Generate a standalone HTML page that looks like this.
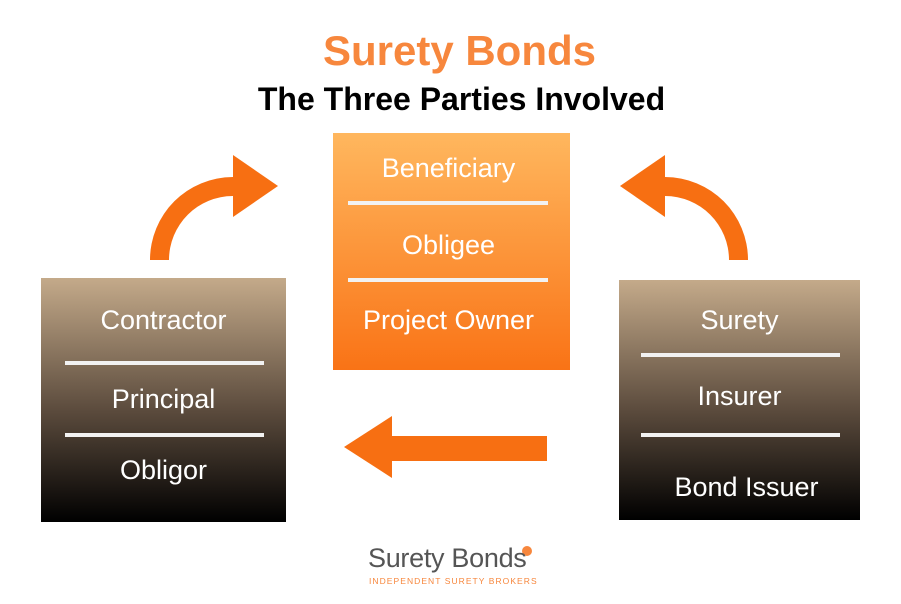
<!DOCTYPE html>
<html><head><style>
body{margin:0;width:901px;height:604px;background:#fff;position:relative;overflow:hidden;font-family:"Liberation Sans",sans-serif}
.t{position:absolute;text-align:center;font-weight:bold;white-space:nowrap}
.box{position:absolute;color:#fff;font-size:27px}
.box div.l{position:absolute;left:0;width:100%;text-align:center}
.box div.h{position:absolute;height:4px;background:#f2f2f2}
</style></head><body>
<div class="t" style="left:9px;width:901px;top:27px;font-size:42px;color:#f7873d">Surety Bonds</div>
<div class="t" style="left:11px;width:901px;top:81px;font-size:32px;color:#000">The Three Parties Involved</div>

<div class="box" style="left:333px;top:133px;width:237px;height:237px;background:linear-gradient(#ffb75e,#f97316)">
<div class="l" style="top:20px;left:-3px">Beneficiary</div>
<div class="h" style="left:15px;width:200px;top:68px"></div>
<div class="l" style="top:97px;left:-3px">Obligee</div>
<div class="h" style="left:15px;width:200px;top:145px"></div>
<div class="l" style="top:172px;left:-3px">Project Owner</div>
</div>

<div class="box" style="left:41px;top:278px;width:245px;height:244px;background:linear-gradient(#c4aa8a,#5a4a3c 55%,#000)">
<div class="l" style="top:27px">Contractor</div>
<div class="h" style="left:24px;width:199px;top:83px"></div>
<div class="l" style="top:106px">Principal</div>
<div class="h" style="left:24px;width:199px;top:155px"></div>
<div class="l" style="top:177px">Obligor</div>
</div>

<div class="box" style="left:619px;top:280px;width:241px;height:240px;background:linear-gradient(#c4aa8a,#5a4a3c 55%,#000)">
<div class="l" style="top:25px">Surety</div>
<div class="h" style="left:22px;width:199px;top:73px"></div>
<div class="l" style="top:101px">Insurer</div>
<div class="h" style="left:22px;width:199px;top:153px"></div>
<div class="l" style="top:192px;left:7px">Bond Issuer</div>
</div>

<svg width="901" height="604" style="position:absolute;left:0;top:0">
<g fill="#f76f12">
<path d="M150,260 A83,83 0 0 1 233,177 L233,196 A64,64 0 0 0 169,260 Z"/>
<polygon points="233,155 278,186 233,217"/>
<path d="M748,260 A83,83 0 0 0 665,177 L665,196 A64,64 0 0 1 729,260 Z"/>
<polygon points="665,155 620,186 665,217"/>
<rect x="390" y="436" width="157" height="25"/>
<polygon points="392,416 344,447 392,478"/>
<circle cx="527" cy="551" r="5" fill="#f7873d"/>
</g>
</svg>
<div style="position:absolute;left:368px;top:543px;font-size:27px;color:#555;letter-spacing:-0.3px">Surety Bonds</div>
<div style="position:absolute;left:369px;top:576px;font-size:8.5px;color:#f7873d;letter-spacing:1.05px">INDEPENDENT SURETY BROKERS</div>
</body></html>
